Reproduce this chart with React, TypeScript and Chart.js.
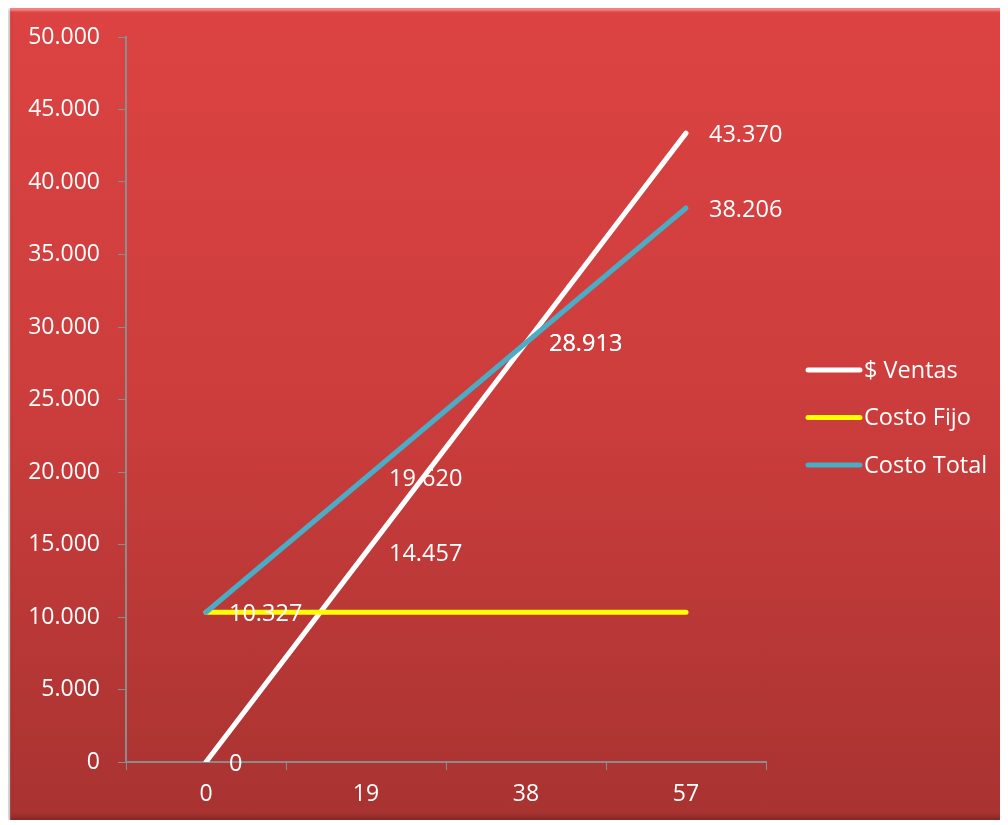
import React, { useEffect, useRef } from "react";
import { Chart, registerables } from "chart.js";

Chart.register(...registerables);

const categories = ["0", "19", "38", "57"];
const ventas = [0, 14457, 28913, 43370];
const costoFijo = [10327, 10327, 10327, 10327];
const costoTotal = [10327, 19620, 28913, 38206];
const seriesNames = ["$ Ventas", "Costo Fijo", "Costo Total"];
const seriesColors = ["#FFFFFF", "#FFFF00", "#4BACC6"];
const showLabels = [[true, true, true, true], [false, false, false, false], [true, true, true, true]];

const FONT = "'Open Sans', 'Liberation Sans', sans-serif";

const fmt = (v: number) => {
  const s = Math.round(v).toString();
  return s.replace(/\B(?=(\d{3})+(?!\d))/g, ".");
};

const labelPlugin = {
  id: "dataLabels",
  afterDatasetsDraw(chart: any) {
    const ctx = chart.ctx;
    ctx.save();
    ctx.font = `23.5px ${FONT}`;
    ctx.fillStyle = "#FFFFFF";
    ctx.textAlign = "left";
    ctx.textBaseline = "middle";
    chart.data.datasets.forEach((ds: any, i: number) => {
      const meta = chart.getDatasetMeta(i);
      meta.data.forEach((pt: any, j: number) => {
        if (!showLabels[ds.seriesIndex][j]) return;
        ctx.fillText(fmt(ds.data[j]), pt.x + 23, pt.y + 2);
      });
    });
    ctx.restore();
  },
};

const legendPlugin = {
  id: "customLegend",
  afterDraw(chart: any) {
    const ctx = chart.ctx;
    ctx.save();
    const x0 = 796;
    const yStart = 362;
    const step = 47.5;
    seriesNames.forEach((name, i) => {
      const y = yStart + i * step;
      ctx.strokeStyle = seriesColors[i];
      ctx.lineWidth = 5;
      ctx.lineCap = "round";
      ctx.beginPath();
      ctx.moveTo(x0 + 2, y);
      ctx.lineTo(x0 + 54, y);
      ctx.stroke();
      ctx.font = `23.5px ${FONT}`;
      ctx.fillStyle = "#FFFFFF";
      ctx.textAlign = "left";
      ctx.textBaseline = "middle";
      ctx.fillText(name, x0 + 58, y + 1);
    });
    ctx.restore();
  },
};

export default function App() {
  const ref = useRef<HTMLCanvasElement | null>(null);
  useEffect(() => {
    if (!ref.current) return;
    const chart = new Chart(ref.current, {
      type: "line",
      data: {
        labels: categories,
        datasets: [
          { label: seriesNames[0], data: ventas, borderColor: seriesColors[0], borderWidth: 5, order: 3, seriesIndex: 0 } as any,
          { label: seriesNames[1], data: costoFijo, borderColor: seriesColors[1], borderWidth: 5, order: 2, seriesIndex: 1 } as any,
          { label: seriesNames[2], data: costoTotal, borderColor: seriesColors[2], borderWidth: 5, order: 1, seriesIndex: 2 } as any,
        ].map((d: any) => ({ ...d, pointRadius: 0, borderCapStyle: "round", borderJoinStyle: "round", tension: 0, fill: false })),
      },
      options: {
        animation: false,
        responsive: false,
        maintainAspectRatio: false,
        layout: { padding: { left: 10, top: 29, right: 240, bottom: 0 } },
        plugins: { legend: { display: false }, tooltip: { enabled: false } },
        scales: {
          x: {
            type: "category",
            offset: true,
            grid: { display: true, drawOnChartArea: false, drawTicks: true, tickLength: 8, color: "#8C8C8C", offset: true, tickColor: "#8C8C8C" },
            border: { display: true, color: "#8C8C8C", width: 2 },
            ticks: { color: "#FFFFFF", font: { family: FONT, size: 23 }, padding: 11 },
            afterFit: (s: any) => { s.height = 58; s.paddingLeft = 0; s.paddingRight = 0; },
          },
          y: {
            min: 0,
            max: 50000,
            grid: { display: true, drawOnChartArea: false, drawTicks: true, tickLength: 8, color: "#8C8C8C", tickColor: "#8C8C8C" },
            border: { display: true, color: "#8C8C8C", width: 2 },
            ticks: { stepSize: 5000, color: "#FFFFFF", font: { family: FONT, size: 23 }, padding: 18, callback: (v: any) => fmt(Number(v)) },
            afterFit: (s: any) => { s.width = 106; s.paddingTop = 0; s.paddingBottom = 0; },
          },
        },
      },
      plugins: [labelPlugin, legendPlugin],
    });
    return () => chart.destroy();
  }, []);

  return (
    <div
      style={{
        marginLeft: 2,
        width: 996,
        height: 812,
        background: "linear-gradient(to bottom, #DC4342 0%, #CB3D3C 50%, #A83331 100%)",
        boxShadow: "inset 0 3px 2px rgba(255,160,160,0.7), inset -3px 0 3px rgba(0,0,0,0.15), inset 0 -4px 4px rgba(0,0,0,0.18), -2px 1px 3px rgba(0,0,0,0.25)",
        position: "relative",
      }}
    >
      <canvas ref={ref} width={996} height={812} style={{ display: "block" }} />
    </div>
  );
}
